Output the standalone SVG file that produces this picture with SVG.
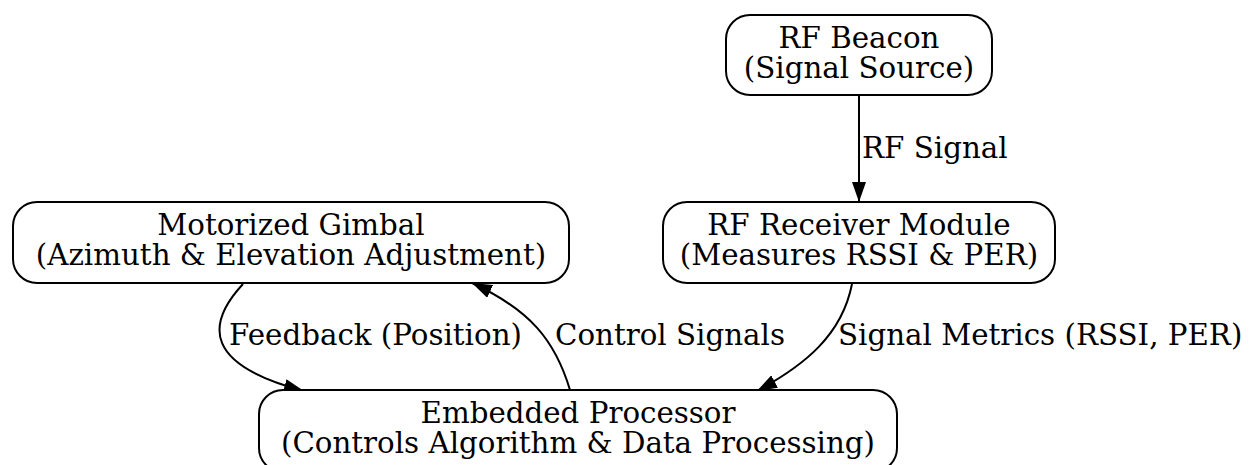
<svg xmlns="http://www.w3.org/2000/svg" width="1254" height="465" viewBox="0 0 1254 465">
<style>
.node rect{fill:#fff;stroke:#000;stroke-width:2}
text{font-family:"DejaVu Serif",serif;font-size:29.3px;fill:#000}
.c{text-anchor:middle}
.edge{fill:none;stroke:#000;stroke-width:2}
</style>
<defs>
<marker id="ah" viewBox="0 0 20 14" refX="20" refY="7" markerWidth="20" markerHeight="14" markerUnits="userSpaceOnUse" orient="auto">
<path d="M0,0 L20,7 L0,14 Z" fill="#000"/>
</marker>
</defs>
<rect width="1254" height="465" fill="#fff"/>
<g id="connectors">
<path class="edge" d="M859,95 L859,202" marker-end="url(#ah)"/>
<path class="edge" d="M852,284 C842,335 805,365 757,391" marker-end="url(#ah)"/>
<path class="edge" d="M243,284 C205,325 205,365 304,391" marker-end="url(#ah)"/>
<path class="edge" d="M570,390 C555,340 530,310 472,283" marker-end="url(#ah)"/>
<text x="862" y="158">RF Signal</text>
<text x="229" y="345">Feedback (Position)</text>
<text x="555" y="345">Control Signals</text>
<text x="838" y="345">Signal Metrics (RSSI, PER)</text>
</g>
<g id="beacon" class="node">
<rect x="726" y="15" width="266" height="80" rx="24"/>
<text class="c" x="859" y="48">RF Beacon</text>
<text class="c" x="859" y="78">(Signal Source)</text>
</g>
<g id="gimbal" class="node">
<rect x="13" y="202" width="556" height="81" rx="24"/>
<text class="c" x="291" y="235">Motorized Gimbal</text>
<text class="c" x="291" y="265">(Azimuth &amp; Elevation Adjustment)</text>
</g>
<g id="receiver" class="node">
<rect x="663" y="202" width="392" height="81" rx="24"/>
<text class="c" x="859" y="235">RF Receiver Module</text>
<text class="c" x="859" y="265">(Measures RSSI &amp; PER)</text>
</g>
<g id="processor" class="node">
<rect x="259" y="390" width="638" height="82" rx="24"/>
<text class="c" x="578" y="423">Embedded Processor</text>
<text class="c" x="578" y="453">(Controls Algorithm &amp; Data Processing)</text>
</g>
</svg>
